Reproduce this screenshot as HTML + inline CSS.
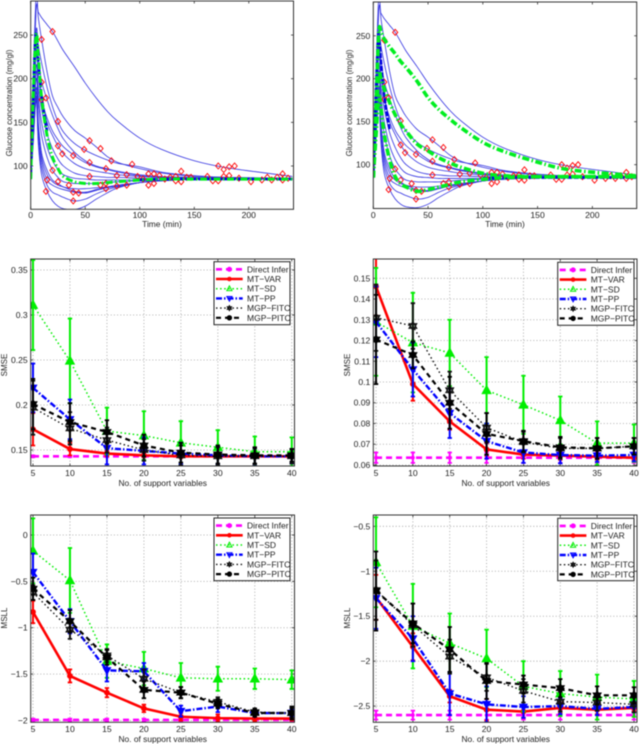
<!DOCTYPE html>
<html lang="en">
<head>
<meta charset="utf-8">
<title>Glucose concentration and SMSE / MSLL charts</title>
<style>
html,body{margin:0;padding:0;background:#fff;width:640px;height:744px;overflow:hidden}
svg{display:block;position:absolute;left:0;top:0;filter:blur(0.4px)}
text{font-family:"Liberation Sans",sans-serif;fill:#222}
</style>
</head>
<body>
<svg id="figure" xmlns="http://www.w3.org/2000/svg" width="640" height="744" viewBox="0 0 640 744"></svg>
<script>
// ---------- glucose curves data ----------
const curveTimes = [0,2,5,7,10,15,20,25,30,40,50,60,70,80,100,120,150,180,240];
const blueCurves = [
 [85,165,278,276,270,262,254,243,232,214,195,178,163,151,132,119,106,98,88],
 [85,190,296,270,245,208,180,167,156,141,132,122,111,104,97,92,88,87,86],
 [85,170,255,238,218,190,168,151,139,126,118,112,107,103,99,93,89,87,86],
 [85,165,240,222,197,176,158,143,131,116,106,100,97,94,90,88,87,86,85],
 [85,160,232,205,176,155,140,130,122,112,104,99,96,93,89,87,86,86,85],
 [85,158,226,205,180,150,135,123,114,103,97,94,92,90,88,87,86,85,85],
 [85,150,215,190,165,137,120,108,100,92,89,88,87,87,86,86,85,85,85],
 [85,145,208,180,150,122,106,96,90,86,85,84,84,84,84,84,85,85,85],
 [85,140,200,170,135,110,95,87,82,80,80,80,81,82,83,84,85,85,85],
 [85,130,190,150,115,95,84,80,76,74,74,75,76,78,81,83,85,85,85],
 [85,125,185,140,105,84,78,75,73,70,69,72,75,77,81,83,85,85,85],
 [85,120,178,130,98,78,70,67,64,60,62,68,73,76,81,84,85,85,85],
 [85,120,175,125,90,71,60,54,51,50,54,62,69,75,81,84,85,85,85],
 [85,125,180,140,110,90,82,78,76,71,70,73,76,78,81,83,85,85,85]
];
const greenLeft = [
 [85,170,250,225,178,135,110,97,88,82,80,80,81,82,84,85,85,85,85]
];
const greenRight = [
 [85,150,252,254,246,237,229,220,213,197,178,164,153,143,126,115,103,94,87],
 [85,140,205,200,188,172,158,147,139,124,116,108,102,97,90,87,86,86,86],
 [85,125,178,165,135,105,86,78,74,69,71,74,77,80,83,85,86,86,86]
];
const thickRiseTimes = [0,2,4,5,7,10,15];
const thickRiseValues = [85,170,240,250,220,180,140];
const thickTailTimes = [100,120,150,180,240];
const thickTailValues = [84,85,85,85,85];
const diamondTimes = [20,10,10,10,14,25,25,29,39,49,54,64,74,93,54,69,79,88,98,54,20,25,15,14,35,39,44,39,64,69,69,79,88,108,113,118,103,108,113,123,128,133,133,138,138,143,147,162,167,172,172,177,182,187,177,182,191,202,212,217,221,226,231,231,236];
const diamondValues = [254,245,196,176,178,151,123,114,112,119,129,120,106,102,104,97,89,90,88,88,95,82,84,71,78,70,69,60,78,80,74,77,78,91,91,89,85,78,80,85,87,88,83,94,82,87,87,88,83,83,100,96,99,100,88,89,86,82,84,87,84,87,91,84,86];
const glucoseXTicks = [0,50,100,150,200];
const glucoseYTicks = [100,150,200,250];

// ---------- error-bar chart data ----------
const supportVariables = [5,10,15,20,25,30,35,40];
const seriesLabels = ['Direct Infer','MT\u2212VAR','MT\u2212SD','MT\u2212PP','MGP\u2212FITC','MGP\u2212PITC'];

const smseLeftValues = [
 [.143,.143,.143,.143,.143,.143,.143,.143],
 [.173,.151,.146,.144,.143,.143,.143,.143],
 [.311,.249,.171,.166,.158,.153,.148,.148],
 [.219,.184,.152,.149,.146,.144,.143,.143],
 [.197,.174,.161,.150,.144,.143,.143,.143],
 [.201,.181,.170,.155,.147,.145,.144,.144]
];
const smseLeftErrors = [
 [.001,.001,.001,.001,.001,.001,.001,.001],
 [.018,.007,.003,.002,.002,.002,.002,.002],
 [.050,.047,.026,.027,.024,.019,.017,.016],
 [.027,.022,.018,.015,.012,.010,.009,.008],
 [.030,.018,.014,.012,.011,.010,.009,.008],
 [.028,.021,.013,.012,.011,.010,.009,.007]
];
const smseRightValues = [
 [.0635,.0635,.0635,.0635,.0635,.0635,.0635,.0635],
 [.146,.099,.081,.0675,.065,.0645,.064,.0635],
 [.129,.119,.114,.096,.089,.0815,.0705,.0705],
 [.129,.106,.085,.0715,.066,.0648,.0645,.0648],
 [.131,.127,.096,.078,.071,.068,.068,.069],
 [.1205,.113,.090,.075,.0715,.0685,.068,.069]
];
const smseRightErrors = [
 [.0025,.0025,.0025,.0025,.0025,.0025,.0025,.0025],
 [.014,.008,.004,.003,.002,.002,.0015,.001],
 [.026,.024,.016,.016,.014,.0115,.0105,.009],
 [.017,.013,.012,.0085,.005,.004,.003,.003],
 [.016,.011,.009,.007,.005,.005,.005,.004],
 [.0215,.0065,.0125,.010,.005,.005,.005,.004]
];
const msllLeftValues = [
 [-1.995,-1.995,-1.995,-1.995,-1.995,-1.995,-1.995,-1.995],
 [-.83,-1.52,-1.70,-1.87,-1.96,-1.975,-1.98,-1.98],
 [-.17,-.49,-1.36,-1.44,-1.54,-1.55,-1.55,-1.56],
 [-.40,-.93,-1.46,-1.47,-1.90,-1.85,-1.92,-1.92],
 [-.62,-1.02,-1.30,-1.55,-1.70,-1.80,-1.91,-1.92],
 [-.58,-.93,-1.32,-1.67,-1.70,-1.82,-1.92,-1.92]
];
const msllLeftErrors = [
 [.015,.015,.015,.015,.015,.015,.015,.015],
 [.12,.07,.05,.04,.04,.04,.03,.02],
 [.35,.35,.18,.18,.16,.13,.11,.10],
 [.20,.13,.12,.09,.06,.06,.04,.04],
 [.08,.10,.07,.10,.06,.05,.04,.05],
 [.12,.12,.08,.09,.06,.05,.04,.07]
];
const msllRightValues = [
 [-2.6,-2.6,-2.6,-2.6,-2.6,-2.6,-2.6,-2.6],
 [-1.29,-1.84,-2.39,-2.54,-2.56,-2.52,-2.54,-2.52],
 [-.90,-1.61,-1.80,-1.97,-2.28,-2.36,-2.40,-2.42],
 [-1.30,-1.75,-2.36,-2.48,-2.51,-2.50,-2.53,-2.51],
 [-1.21,-1.60,-1.95,-2.18,-2.33,-2.45,-2.46,-2.48],
 [-1.22,-1.58,-1.87,-2.22,-2.26,-2.30,-2.38,-2.38]
];
const msllRightErrors = [
 [.05,.05,.05,.05,.05,.05,.05,.05],
 [.25,.15,.07,.12,.07,.06,.05,.04],
 [.50,.47,.33,.32,.28,.25,.25,.20],
 [.34,.25,.24,.20,.12,.09,.07,.06],
 [.33,.24,.19,.15,.13,.11,.09,.09],
 [.44,.22,.25,.20,.10,.10,.10,.09]
];
const smseLeftTicks = [0.15,0.2,0.25,0.3,0.35];
const smseRightTicks = [0.06,0.07,0.08,0.09,0.1,0.11,0.12,0.13,0.14,0.15];
const msllLeftTicks = [-2,-1.5,-1,-0.5,0];
const msllRightTicks = [-2.5,-2,-1.5,-1,-0.5];

// ---------- drawing helpers ----------
const NS = 'http://www.w3.org/2000/svg';
const fig = document.getElementById('figure');
const seriesStyles = [
 {c:'#ff00ff',w:2.6,d:'6 4',m:'circle'},
 {c:'#ff0000',w:2.6,d:'',m:'ring'},
 {c:'#00ee00',w:1.5,d:'1.5 2.6',m:'up'},
 {c:'#0000ff',w:2.4,d:'6 2 1.5 2',m:'down'},
 {c:'#111111',w:1.4,d:'1.5 2.6',m:'star'},
 {c:'#000000',w:2.2,d:'5 4',m:'dot'}
];
const seriesKeys = ['direct-infer','mt-var','mt-sd','mt-pp','mgp-fitc','mgp-pitc'];

function make(parent, tag, attrs) {
  const el = document.createElementNS(NS, tag);
  for (const k in attrs) el.setAttribute(k, attrs[k]);
  parent.appendChild(el);
  return el;
}
function scale(d0, d1, r0, r1) {
  return function (v) { return r0 + (v - d0) * (r1 - r0) / (d1 - d0); };
}
function smoothPath(xs, ys) {
  let s = 'M' + xs[0].toFixed(2) + ' ' + ys[0].toFixed(2);
  for (let i = 0; i < xs.length - 1; i++) {
    const a = Math.max(i - 1, 0), b = Math.min(i + 2, xs.length - 1);
    const c1x = xs[i] + (xs[i + 1] - xs[a]) / 6, c1y = ys[i] + (ys[i + 1] - ys[a]) / 6;
    const c2x = xs[i + 1] - (xs[b] - xs[i]) / 6, c2y = ys[i + 1] - (ys[b] - ys[i]) / 6;
    s += 'C' + c1x.toFixed(2) + ' ' + c1y.toFixed(2) + ' ' + c2x.toFixed(2) + ' ' + c2y.toFixed(2) + ' ' + xs[i + 1].toFixed(2) + ' ' + ys[i + 1].toFixed(2);
  }
  return s;
}
function fmtMinus(v) { return String(v).replace('-', '\u2212'); }

function drawFrame(p, xTicks, yTicks, xAxisY, grid) {
  const g = make(fig, 'g', {});
  
  
  if (grid) {
    xTicks.forEach(function (t) {
      const l = make(g, 'line', {x1:p.x(t),x2:p.x(t),y1:p.T,y2:p.B,stroke:'#999','stroke-width':'0.8','stroke-dasharray':'1 2.2'});
      
      
    });
    yTicks.forEach(function (t) {
      const l = make(g, 'line', {x1:p.L,x2:p.R,y1:p.y(t),y2:p.y(t),stroke:'#999','stroke-width':'0.8','stroke-dasharray':'1 2.2'});
      
      
    });
  }
  const clip = make(fig, 'clipPath', {id:p.name + '-clip'});
  make(clip, 'rect', {x:p.L,y:p.T,width:p.R - p.L,height:p.B - p.T});
  xTicks.forEach(function (t) {
    const x = p.x(t);
    [[p.B, p.B - 2.5], [p.T, p.T + 2.5]].forEach(function (e) {
      const l = make(g, 'line', {x1:x,x2:x,y1:e[0],y2:e[1],stroke:'#333','stroke-width':'0.8'});
      
      
    });
    const lab = make(g, 'text', {x:x,y:xAxisY,'text-anchor':'middle','font-size':'8.6'});
    
    
    lab.textContent = fmtMinus(t);
  });
  yTicks.forEach(function (t) {
    const y = p.y(t);
    [[p.L, p.L + 2.5], [p.R, p.R - 2.5]].forEach(function (e) {
      const l = make(g, 'line', {x1:e[0],x2:e[1],y1:y,y2:y,stroke:'#333','stroke-width':'0.8'});
      
      
    });
    const lab = make(g, 'text', {x:p.L - 3,y:y + 3,'text-anchor':'end','font-size':'8.6'});
    
    
    lab.textContent = fmtMinus(t);
  });
}
function drawBorder(p) {
  const r = make(fig, 'rect', {x:p.L,y:p.T,width:p.R - p.L,height:p.B - p.T,fill:'none',stroke:'#333','stroke-width':'1'});
  
  
}
function drawTitles(p, xTitle, xTitleX, xTitleY, yTitle, yTitleX, yTitleY) {
  const t = make(fig, 'text', {x:xTitleX,y:xTitleY,'text-anchor':'middle','font-size':'8.4'});
  
  
  t.textContent = xTitle;
  const u = make(fig, 'text', {transform:'translate(' + yTitleX + ' ' + yTitleY + ') rotate(-90)','text-anchor':'middle','font-size':'8'});
  
  
  u.textContent = yTitle;
}

function drawGlucose(p, greens, greenWidth) {
  const g = make(fig, 'g', {'clip-path':'url(#' + p.name + '-clip)'});
  
  
  const xs = curveTimes.map(p.x);
  blueCurves.forEach(function (vals) {
    const c = make(g, 'path', {d:smoothPath(xs, vals.map(p.y)),fill:'none',stroke:'#3030e0','stroke-width':'0.8'});
    
    
  });
  diamondTimes.forEach(function (t, i) {
    const cx = p.x(t), cy = p.y(diamondValues[i]);
    const pts = [[cx, cy - 3], [cx + 2.6, cy], [cx, cy + 3], [cx - 2.6, cy]].map(function (q) { return q.join(','); }).join(' ');
    const d = make(g, 'polygon', {points:pts,fill:'none',stroke:'#f00','stroke-width':'0.9'});
    
    
  });
  const rise = make(g, 'path', {d:smoothPath(thickRiseTimes.map(p.x), thickRiseValues.map(p.y)),fill:'none',stroke:'#0000e0','stroke-width':'2.6','stroke-dasharray':'5 1.5'});
  
  
  const tail = make(g, 'path', {d:smoothPath(thickTailTimes.map(p.x), thickTailValues.map(p.y)),fill:'none',stroke:'#0000e0','stroke-width':'2.6','stroke-dasharray':'5 1.5'});
  
  
  greens.forEach(function (vals) {
    const c = make(g, 'path', {d:smoothPath(xs, vals.map(p.y)),fill:'none',stroke:'#00ee20','stroke-width':greenWidth,'stroke-dasharray':'7 2.5 1.5 2.5'});
    
    
  });
}

function drawMarker(parent, kind, cx, cy, color, size, filled) {
  let el;
  if (kind === 'circle' || kind === 'ring' || kind === 'dot') {
    el = make(parent, 'circle', {cx:cx,cy:cy,r:size,fill:(kind === 'ring' && !filled) ? 'none' : color,stroke:color,'stroke-width':'1'});
  } else if (kind === 'up' || kind === 'down') {
    const s = kind === 'up' ? 1 : -1;
    const pts = [[cx, cy - s * size * 1.1], [cx + size, cy + s * size * 0.75], [cx - size, cy + s * size * 0.75]].map(function (q) { return q.join(','); }).join(' ');
    el = make(parent, 'polygon', {points:pts,fill:filled ? color : 'none',stroke:color,'stroke-width':'1'});
  } else {
    let d = '';
    [-1, 1].forEach(function (s) {
      d += 'M' + cx + ' ' + (cy - s * size * 1.15) + 'L' + (cx + size) + ' ' + (cy + s * size * 0.6) + 'L' + (cx - size) + ' ' + (cy + s * size * 0.6) + 'Z';
    });
    el = make(parent, 'path', {d:d,fill:'none',stroke:color,'stroke-width':'1.2'});
  }
  
  
  return el;
}

function drawErrorSeries(p, values, errors) {
  const clipped = make(fig, 'g', {'clip-path':'url(#' + p.name + '-clip)'});
  
  
  values.forEach(function (vals, s) {
    const st = seriesStyles[s];
    const g = make(clipped, 'g', {});
    
    
    const points = supportVariables.map(function (v, i) { return p.x(v).toFixed(2) + ',' + p.y(vals[i]).toFixed(2); }).join(' ');
    supportVariables.forEach(function (v, i) {
      const x = p.x(v), hi = p.y(vals[i] + errors[s][i]), lo = p.y(vals[i] - errors[s][i]);
      const bar = make(g, 'line', {x1:x,x2:x,y1:hi,y2:lo,stroke:st.c,'stroke-width':'2'});
      
      
      [hi, lo].forEach(function (y) {
        const cap = make(g, 'line', {x1:x - 2.2,x2:x + 2.2,y1:y,y2:y,stroke:st.c,'stroke-width':'1.8'});
        
        
      });
    });
    const line = make(g, 'polyline', {points:points,fill:'none',stroke:st.c,'stroke-width':st.w,'stroke-dasharray':st.d});
    
    
    supportVariables.forEach(function (v, i) {
      const size = {circle:1.4,ring:2.4,up:4.4,down:3.7,star:3.8,dot:2.7}[st.m];
      drawMarker(g, st.m, p.x(v), p.y(vals[i]), st.c, size, true);
      if (s === 5) drawMarker(g, 'star', p.x(v), p.y(vals[i]), st.c, 3.8, false);
    });
  });
}

function drawLegend(left, top, width, height) {
  const g = make(fig, 'g', {});
  
  
  const box = make(g, 'rect', {x:left,y:top,width:width,height:height,fill:'#fff',stroke:'#222','stroke-width':'1'});
  
  
  seriesLabels.forEach(function (label, i) {
    const st = seriesStyles[i];
    const y = top + 7.6 + i * 9.7;
    const e = make(g, 'g', {});
    
    
    const l = make(e, 'line', {x1:left + 2,x2:left + 28.7,y1:y,y2:y,stroke:st.c,'stroke-width':st.w,'stroke-dasharray':st.d});
    
    
    const size = {circle:2,ring:1.8,up:2.6,down:2.6,star:2,dot:2.2}[st.m];
    drawMarker(e, st.m, left + 15.4, y, st.c, size, false);
    const t = make(e, 'text', {x:left + 33,y:y + 3,'font-size':'8.5'});
    
    
    t.textContent = label;
  });
}

function panel(name, L, R, T, B, xd, yd) {
  return {name:name,L:L,R:R,T:T,B:B,x:scale(xd[0], xd[1], L, R),y:scale(yd[0], yd[1], B, T)};
}

// ---------- panels ----------
const glucoseTitle = 'Glucose concentration (mg/gl)';
const xSupportTitle = 'No. of support variables';

const p1 = panel('glucose-left', 30.7, 293.5, 1, 209.3, [0, 241], [50.4, 289]);
drawFrame(p1, glucoseXTicks, glucoseYTicks, 218, false);
drawGlucose(p1, greenLeft, 3);
drawBorder(p1);
drawTitles(p1, 'Time (min)', 162, 227, glucoseTitle, 12, 103);

const p2 = panel('glucose-right', 373.3, 636.7, 2, 208.5, [0, 240.5], [49, 289.3]);
drawFrame(p2, glucoseXTicks, glucoseYTicks, 218, false);
drawGlucose(p2, greenRight, 3.6);
drawBorder(p2);
drawTitles(p2, 'Time (min)', 505, 227, glucoseTitle, 352, 103);

const p3 = panel('smse-left', 30.7, 294.5, 259, 466, [4.69, 40.37], [0.1322, 0.3622]);
drawFrame(p3, supportVariables, smseLeftTicks, 476, true);
drawErrorSeries(p3, smseLeftValues, smseLeftErrors);
drawBorder(p3);
drawTitles(p3, xSupportTitle, 162.7, 486, 'SMSE', 7, 365);
drawLegend(214, 261.7, 76, 63);

const p4 = panel('smse-right', 373.3, 637, 259, 466, [4.63, 40.41], [0.0595, 0.1593]);
drawFrame(p4, supportVariables, smseRightTicks, 476, true);
drawErrorSeries(p4, smseRightValues, smseRightErrors);
drawBorder(p4);
drawTitles(p4, xSupportTitle, 505.7, 486, 'SMSE', 350, 365);
drawLegend(557.7, 262.3, 76.3, 63);

const p5 = panel('msll-left', 30.7, 294.5, 515, 722.3, [4.69, 40.37], [-2.02, 0.216]);
drawFrame(p5, supportVariables, msllLeftTicks, 732, true);
drawErrorSeries(p5, msllLeftValues, msllLeftErrors);
drawBorder(p5);
drawTitles(p5, xSupportTitle, 162.7, 742, 'MSLL', 7, 618);
drawLegend(214, 518, 76, 62.7);

const p6 = panel('msll-right', 373.3, 637, 515, 722.3, [4.63, 40.41], [-2.68, -0.374]);
drawFrame(p6, supportVariables, msllRightTicks, 732, true);
drawErrorSeries(p6, msllRightValues, msllRightErrors);
drawBorder(p6);
drawTitles(p6, xSupportTitle, 505.7, 742, 'MSLL', 350, 618);
drawLegend(557.7, 518.3, 76.3, 62.4);
</script>
</body>
</html>
